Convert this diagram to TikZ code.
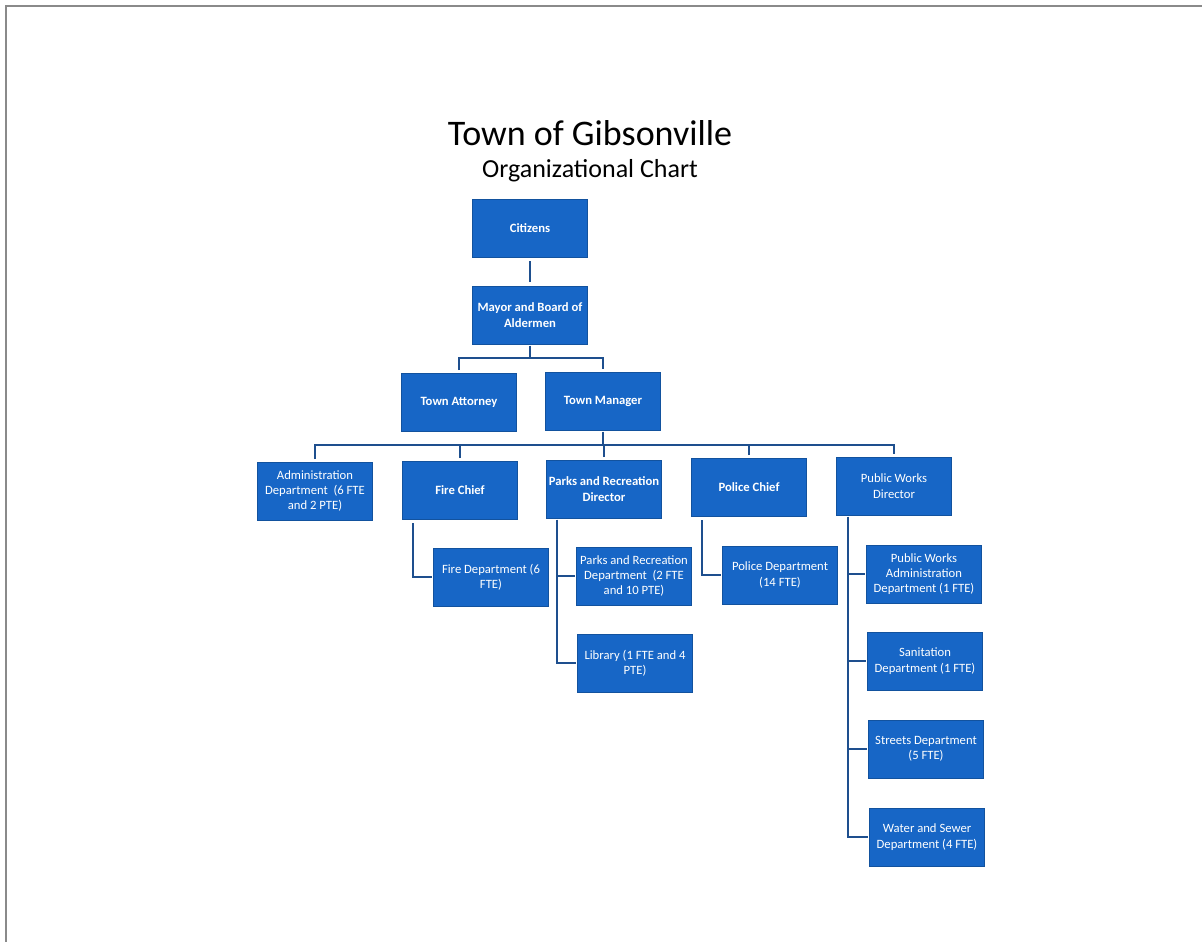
\documentclass[tikz,border=0pt]{standalone}
\usepackage{fontspec}
\setmainfont{Carlito}
\definecolor{boxblue}{HTML}{1766C6}
\definecolor{linkblue}{HTML}{1E4F8E}
\definecolor{framegray}{HTML}{8A8A8A}
\tikzset{
  orgbox/.style={rectangle, fill=boxblue, text=white, draw=boxblue!80!black, line width=0.4pt,
    minimum width=86pt, minimum height=43.5pt, inner sep=1pt, align=center,
    font=\fontsize{9.5}{11.5}\selectfont},
  bolder/.style={font=\fontsize{9.5}{11.5}\selectfont\bfseries},
  link/.style={draw=linkblue, line width=1.8pt},
  frame/.style={draw=framegray, line width=1.5pt}
}
\begin{document}
\begin{tikzpicture}[x=0.75pt, y=-0.75pt]
\useasboundingbox (0,0) rectangle (1202,942);
\fill[white] (0,0) rectangle (1202,942);
\draw[frame] (1202,6) -- (6,6) -- (6,942);

\node[font=\fontsize{27}{30}\selectfont] (title) at (590,133) {Town of Gibsonville};
\node[font=\fontsize{19.5}{22}\selectfont] (subtitle) at (590,171) {Organizational Chart};

\node[orgbox, bolder] (cit) at (530,228) {Citizens};
\node[orgbox, bolder] (may) at (530,315) {Mayor and Board of\\Aldermen};
\node[orgbox, bolder] (att) at (459,402) {Town Attorney};
\node[orgbox, bolder] (man) at (603,401) {Town Manager};

\node[orgbox] (adm) at (315,491) {Administration\\Department \ (6 FTE\\and 2 PTE)};
\node[orgbox, bolder] (fch) at (460,490) {Fire Chief};
\node[orgbox, bolder] (pdr) at (604,489) {Parks and Recreation\\Director};
\node[orgbox, bolder] (pch) at (749,487) {Police Chief};
\node[orgbox] (pwd) at (894,486) {Public Works\\Director};

\node[orgbox] (fdp) at (491,577) {Fire Department (6\\FTE)};
\node[orgbox] (prd) at (634,576) {Parks and Recreation\\Department \ (2 FTE\\and 10 PTE)};
\node[orgbox] (lib) at (635,663) {Library (1 FTE and 4\\PTE)};
\node[orgbox] (pod) at (780,575) {Police Department\\(14 FTE)};
\node[orgbox] (pwa) at (924,574) {Public Works\\Administration\\Department (1 FTE)};
\node[orgbox] (san) at (925,661) {Sanitation\\Department (1 FTE)};
\node[orgbox] (str) at (926,749) {Streets Department\\(5 FTE)};
\node[orgbox] (wat) at (927,837) {Water and Sewer\\Department (4 FTE)};

% top chain
\draw[link] ([yshift=-3pt]cit.south) -- ([yshift=3pt]may.north);
\coordinate (mbar) at (530,358);
\draw[link] ([yshift=-1pt]may.south) -- (mbar);
\draw[link] ([yshift=2pt]att.north) |- (mbar) -| ([yshift=2pt]man.north);

% manager to department heads
\coordinate (tbar) at (603,445);
\draw[link] ([yshift=-1pt]man.south) -- (tbar);
\draw[link] ([yshift=2pt]adm.north) |- (tbar) -| ([yshift=2pt]pwd.north);
\draw[link] ([yshift=2pt]fch.north) -- (fch.north |- tbar);
\draw[link] ([yshift=2pt]pdr.north) -- (pdr.north |- tbar);
\draw[link] ([yshift=2pt]pch.north) -- (pch.north |- tbar);

% fire
\draw[link] ([xshift=-35.25pt,yshift=-3pt]fch.south) |- ([xshift=-1pt]fdp.west);
% parks
\draw[link] ([xshift=-35.25pt,yshift=-1pt]pdr.south) |- ([xshift=-1pt]lib.west);
\draw[link] ([xshift=-14.25pt]prd.west) -- ([xshift=-1pt]prd.west);
% police
\draw[link] ([xshift=-35.25pt,yshift=-3pt]pch.south) |- ([xshift=-1pt]pod.west);
% public works
\draw[link] ([xshift=-34.5pt,yshift=-1pt]pwd.south) |- ([xshift=-1pt]wat.west);
\draw[link] ([xshift=-14.25pt]pwa.west) -- ([xshift=-1pt]pwa.west);
\draw[link] ([xshift=-15pt]san.west) -- ([xshift=-1pt]san.west);
\draw[link] ([xshift=-15.75pt]str.west) -- ([xshift=-1pt]str.west);
\end{tikzpicture}
\end{document}
